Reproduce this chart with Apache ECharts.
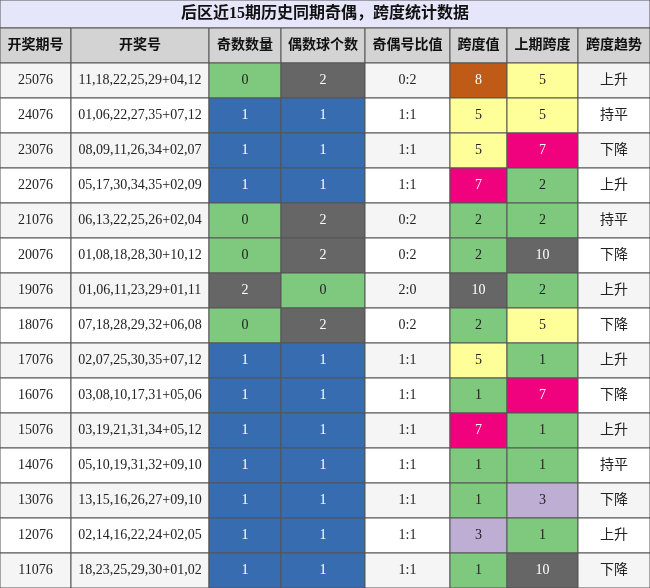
<!DOCTYPE html>
<html><head><meta charset="utf-8">
<script src="https://cdn.jsdelivr.net/npm/echarts@6/dist/echarts.min.js"></script>
<style>html,body{margin:0;padding:0;background:#fff}#c{width:650px;height:588px}</style>
</head><body><div id="c"></div>
<script>
var titleText = '后区近15期历史同期奇偶，跨度统计数据';
var headers = ['开奖期号', '开奖号', '奇数数量', '偶数球个数', '奇偶号比值', '跨度值', '上期跨度', '跨度趋势'];
var colEdges = [0, 71, 209, 281, 365, 450, 507, 578, 650];
var issues = ['25076','24076','23076','22076','21076','20076','19076','18076','17076','16076','15076','14076','13076','12076','11076'];
var numbers = ['11,18,22,25,29+04,12','01,06,22,27,35+07,12','08,09,11,26,34+02,07','05,17,30,34,35+02,09','06,13,22,25,26+02,04','01,08,18,28,30+10,12','01,06,11,23,29+01,11','07,18,28,29,32+06,08','02,07,25,30,35+07,12','03,08,10,17,31+05,06','03,19,21,31,34+05,12','05,10,19,31,32+09,10','13,15,16,26,27+09,10','02,14,16,22,24+02,05','18,23,25,29,30+01,02'];
var oddCount = [0,1,1,1,0,0,2,0,1,1,1,1,1,1,1];
var evenCount = [2,1,1,1,2,2,0,2,1,1,1,1,1,1,1];
var ratio = ['0:2','1:1','1:1','1:1','0:2','0:2','2:0','0:2','1:1','1:1','1:1','1:1','1:1','1:1','1:1'];
var span = [8,5,5,7,2,2,10,2,5,1,7,1,1,3,1];
var prevSpan = [5,5,7,2,2,10,2,5,1,7,1,1,3,1,10];
var trend = ['上升','持平','下降','上升','持平','下降','上升','下降','上升','下降','上升','持平','下降','上升','下降'];

var countColor = {0: '#7fc97f', 1: '#386cb0', 2: '#666666'};
var spanColor = {1: '#7fc97f', 2: '#7fc97f', 3: '#beaed4', 5: '#ffff99', 7: '#f0027f', 8: '#bf5b17', 10: '#666666'};
function txtColor(bg) { return (bg === '#386cb0' || bg === '#666666' || bg === '#f0027f' || bg === '#bf5b17') ? '#ffffff' : '#222222'; }

var cells = [];
headers.forEach(function (h, c) { cells.push([c, 0, h, '#d3d3d3', '#111', 1]); });
issues.forEach(function (iss, r) {
  var row = r + 1;
  var base = r % 2 === 0 ? '#f5f5f5' : '#ffffff';
  var vals = [
    [iss, base], [numbers[r], base],
    [String(oddCount[r]), countColor[oddCount[r]]],
    [String(evenCount[r]), countColor[evenCount[r]]],
    [ratio[r], base],
    [String(span[r]), spanColor[span[r]]],
    [String(prevSpan[r]), spanColor[prevSpan[r]]],
    [trend[r], base]
  ];
  vals.forEach(function (v, c) { cells.push([c, row, v[0], v[1], txtColor(v[1]), 0]); });
});

var chart = echarts.init(document.getElementById('c'));
chart.setOption({
  animation: false,
  grid: {left: 0, right: 0, top: 0, bottom: 0},
  xAxis: {type: 'value', min: 0, max: 650, show: false},
  yAxis: {type: 'value', min: -0.8, max: 16, inverse: true, show: false},
  series: [{
    type: 'custom',
    data: [[0]],
    renderItem: function (params, api) {
      var p0 = api.coord([0, -0.8]), p1 = api.coord([650, 0]);
      return {type: 'group', children: [
        {type: 'rect', shape: {x: p0[0], y: p0[1], width: p1[0] - p0[0], height: p1[1] - p0[1]},
         style: {fill: '#e6e6fa', stroke: '#555', lineWidth: 1}},
        {type: 'text', style: {text: titleText, x: (p0[0] + p1[0]) / 2, y: (p0[1] + p1[1]) / 2,
         align: 'center', verticalAlign: 'middle', fill: '#111',
         font: 'bold 16px "Liberation Serif","Noto Sans CJK SC",serif'}}
      ]};
    }
  }, {
    type: 'custom',
    data: cells,
    renderItem: function (params, api) {
      var d = cells[params.dataIndex];
      var c = d[0], r = d[1];
      var a = api.coord([colEdges[c], r]), b = api.coord([colEdges[c + 1], r + 1]);
      var font = (d[5] ? 'bold 14px ' : '14px ') + '"Liberation Serif","Noto Sans CJK SC",serif';
      return {type: 'group', children: [
        {type: 'rect', shape: {x: a[0], y: a[1], width: b[0] - a[0], height: b[1] - a[1]},
         style: {fill: d[3], stroke: '#555', lineWidth: 1}},
        {type: 'text', style: {text: d[2], x: (a[0] + b[0]) / 2, y: (a[1] + b[1]) / 2,
         align: 'center', verticalAlign: 'middle', fill: d[4], font: font}}
      ]};
    }
  }]
});
</script></body></html>
